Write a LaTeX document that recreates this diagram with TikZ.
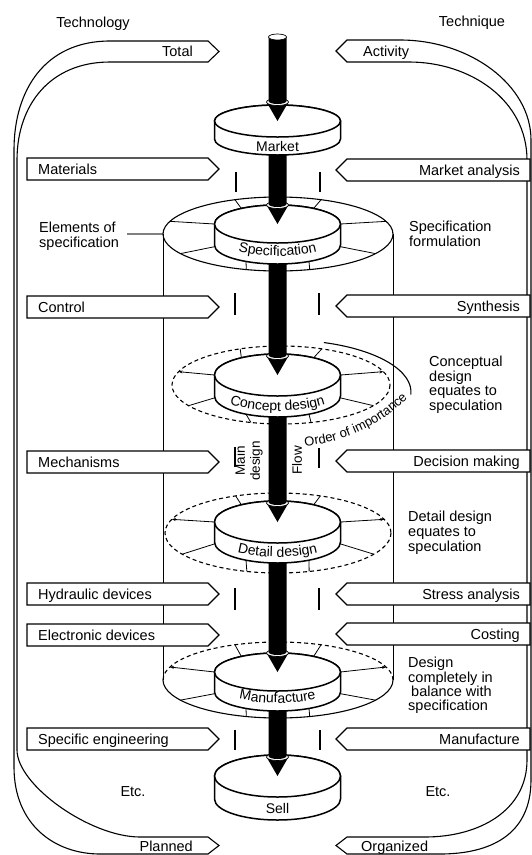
\documentclass[tikz,border=0pt]{standalone}
\usepackage{fontspec}
\setmainfont{Liberation Sans}
\usetikzlibrary{decorations.text,arrows.meta}
\newcommand\labfont{\fontsize{14.5}{15}\selectfont}
\newcommand\dskfont{\fontsize{14}{15}\selectfont}
\newcommand\ordfont{\fontsize{13}{14}\selectfont}
\newcommand\lbox[3]{%
  \draw[boxst] (27,#2) -- (208,#2) -- (219,#2+11) -- (208,#2+22) -- (27,#2+22) -- cycle;
  \node[lab, anchor=base west] (#1) at (38,#2+16) {#3};}
\newcommand\rbox[3]{%
  \draw[boxst] (530,#2) -- (347,#2) -- (336,#2+11) -- (347,#2+22) -- (530,#2+22) -- cycle;
  \node[lab, anchor=base east] (#1) at (520,#2+16) {#3};}
\newcommand\spk[9]{\draw[#9] ([shift={(#8:63 and #7)}]277.5,#6) -- ([shift={(#5:#3 and #4)}]#1,#2);}
\newcommand\wheel[8]{%
  \spk{#1}{#2}{#3}{#4}{-112}{#5}{#7}{-125}{spoke}%
  \spk{#1}{#2}{#3}{#4}{-68}{#5}{#7}{-55}{spoke}%
  \spk{#1}{#2}{#3}{#4}{-160}{#5}{#7}{180}{#8}%
  \spk{#1}{#2}{#3}{#4}{-20}{#5}{#7}{0}{#8}%
  \spk{#1}{#2}{#3}{#4}{148}{#6}{#7}{175}{spoke}%
  \spk{#1}{#2}{#3}{#4}{32}{#6}{#7}{5}{spoke}%
  \spk{#1}{#2}{#3}{#4}{106}{#6}{#7}{120}{spoke}%
  \spk{#1}{#2}{#3}{#4}{74}{#6}{#7}{60}{spoke}}
\newcommand\disk[3]{%
  \filldraw[disc] (214.5,#1) -- (214.5,#2) arc[start angle=180,end angle=0,x radius=63,y radius=#3] -- (340.5,#1) arc[start angle=0,end angle=-180,x radius=63,y radius=#3] -- cycle;
  \draw[disc] (277.5,#1) ellipse [x radius=63,y radius=#3];}
\newcommand\arrowseg[2]{%
  \fill (266.5,#2-19) -- (277.5,#2) -- (288.5,#2-19) -- cycle;
  \filldraw[fill=white,draw=black,line width=0.7pt] (277.5,#2-19) ellipse [x radius=11,y radius=3.5];
  \fill (268.5,#1) -- (268.5,#2-20) arc[start angle=180,end angle=0,x radius=9,y radius=3] -- (286.5,#1) -- cycle;}
\newcommand\disklabel[2]{\path[decorate,decoration={text along path,text={|\dskfont|#2},text align=center}] (277.5,#1-30) ++(150:75 and 30) arc[start angle=150,end angle=30,x radius=75,y radius=30];}
\begin{document}
\begin{tikzpicture}[x=1pt,y=-1pt,font=\labfont,
  boxst/.style={draw=black,fill=white,line width=1.1pt,line join=miter},
  band/.style={draw=black,line width=1.1pt},
  disc/.style={draw=black,fill=white,line width=1.5pt},
  ringsolid/.style={draw=black,line width=1.1pt},
  ringdash/.style={draw=black,line width=1.1pt,dash pattern=on 4pt off 3pt},
  spoke/.style={draw=black,line width=0.8pt},
  spokearrow/.style={spoke,-{Stealth[length=4pt,width=3pt]}},
  tick/.style={draw=black,line width=1.2pt},
  lab/.style={inner sep=0pt},
  txt/.style={inner sep=0pt,align=left}]
\useasboundingbox (0,0) rectangle (532,855);
% side bands
\draw[band] (219,51.5) -- (208,41) -- (110,41) .. controls (45,41) and (14,90) .. (14,150) -- (14,767) .. controls (14,825) and (55,854) .. (100,854) -- (208,854) -- (219,845.5) -- (208,837) -- (140,837) .. controls (90,837) and (17,785) .. (17,750) -- (17,160) .. controls (17,105) and (50,62) .. (110,62) -- (208,62) -- cycle;
\draw[band] (336,51) -- (347,40) -- (400,40) .. controls (470,40) and (531,85) .. (531,140) -- (531,780) .. controls (531,835) and (490,854) .. (440,854) -- (347,854) -- (336,845.5) -- (347,837) -- (425,837) .. controls (480,837) and (527,810) .. (527,760) -- (527,160) .. controls (527,100) and (470,62) .. (409,62) -- (347,62) -- cycle;
\node[lab,anchor=base east] (total) at (193,56.5) {Total};
\node[lab,anchor=base west] (activity) at (363,56) {Activity};
\node[lab,anchor=base east] (planned) at (193,851.5) {Planned};
\node[lab,anchor=base west] (organized) at (361,851) {Organized};
\node[lab,anchor=base] (technology) at (93,27) {Technology};
\node[lab,anchor=base] (technique) at (472,26) {Technique};
% cylinder
\draw[ringsolid,line width=1pt] (163,234) -- (163,680);
\draw[ringsolid,line width=1pt] (393,234) -- (393,680);
% boxes
\lbox{materials}{158}{Materials}
\lbox{control}{296}{Control}
\lbox{mechanisms}{451}{Mechanisms}
\lbox{hydraulic}{583}{Hydraulic devices}
\lbox{electronic}{624}{Electronic devices}
\lbox{specific}{728}{Specific engineering}
\rbox{marketan}{159}{Market analysis}
\rbox{synthesis}{295}{Synthesis}
\rbox{decision}{450}{Decision making}
\rbox{stress}{583}{Stress analysis}
\rbox{costing}{623}{Costing}
\rbox{manufr}{728}{Manufacture}
% ticks
\draw[tick] (236,172) -- (236,192);
\draw[tick] (320,172) -- (320,192);
\draw[tick] (235,293) -- (235,315);
\draw[tick] (319,293) -- (319,315);
\draw[tick] (235,447) -- (235,467);
\draw[tick] (319,448) -- (319,468);
\draw[tick] (235,588) -- (235,610);
\draw[tick] (319,588) -- (319,610);
\draw[tick] (235,730) -- (235,750);
\draw[tick] (320,730) -- (320,750);
\node[rotate=90,align=center,inner sep=0pt,font=\fontsize{13.5}{15}\selectfont] (maind) at (249,461) {Main\\design};
\node[rotate=90,inner sep=0pt,font=\fontsize{13.5}{15}\selectfont] (flow) at (297,460) {Flow};
% notes
\node[txt,anchor=north west] (specform) at (409,221) {Specification\\formulation};
\node[txt,anchor=north west,font=\fontsize{14.5}{14.5}\selectfont] (concnote) at (429,356) {Conceptual\\design\\equates to\\speculation};
\node[txt,anchor=north west] (detnote) at (408,511) {Detail design\\equates to\\speculation};
\node[txt,anchor=north west,font=\fontsize{14.5}{14.3}\selectfont] (balnote) at (408,657) {Design\\completely in\\\hspace*{3pt}balance with\\specification};
\node[txt,anchor=north west] (elemspec) at (39,222) {Elements of\\specification};
\draw[gray,line width=2pt] (127,234) -- (163,234);
\node[lab] (etcl) at (133,792) {Etc.};
\node[lab] (etcr) at (438,792) {Etc.};
% Market
\disk{121}{139}{16}
\arrowseg{37}{121}
\filldraw[fill=white,draw=black,line width=0.7pt] (277.5,37) ellipse [x radius=9,y radius=3];
\node[lab,anchor=base,font=\dskfont] (marketlab) at (277.5,151.5) {Market};
% Specification
\draw[ringsolid] (278,234) ellipse [x radius=115,y radius=37];
\wheel{278}{234}{115}{37}{224}{245}{19}{spoke}
\disk{224}{245}{19}
\disklabel{256}{Specification}
\arrowseg{154.5}{224}
% Concept
\draw[ringdash] (281,385) ellipse [x radius=109,y radius=39];
\wheel{281}{385}{109}{39}{375}{396}{21}{spokearrow}
\disk{375}{396}{21}
\disklabel{411}{Concept design}
\arrowseg{264}{375}
\draw[ringsolid] (285,392) ++(-72:126 and 52) arc[start angle=-72,end angle=3,x radius=126,y radius=52];
\path[decorate,decoration={text along path,text={|\ordfont|Order of importance}}] (290.6,281.7) ++(85:165) arc[start angle=85,end angle=38,radius=165];
% Detail
\draw[ringdash] (278,533) ellipse [x radius=113,y radius=40];
\wheel{278}{533}{113}{40}{522}{542}{21}{spokearrow}
\disk{522}{542}{21}
\disklabel{557}{Detail design}
\arrowseg{416.5}{522}
% Manufacture
\draw[ringdash] (278,680) ++(180:115 and 38) arc[start angle=180,end angle=360,x radius=115,y radius=38];
\draw[ringsolid] (278,680) ++(0:115 and 38) arc[start angle=0,end angle=180,x radius=115,y radius=38];
\wheel{278}{680}{115}{38}{672}{692}{19}{spokearrow}
\disk{672}{692}{19}
\disklabel{703}{Manufacture}
\arrowseg{562.5}{672}
% Sell
\disk{776}{799}{21}
\node[lab,anchor=base,font=\dskfont] (selllab) at (277.5,813) {Sell};
\arrowseg{710.5}{776}
\end{tikzpicture}
\end{document}
